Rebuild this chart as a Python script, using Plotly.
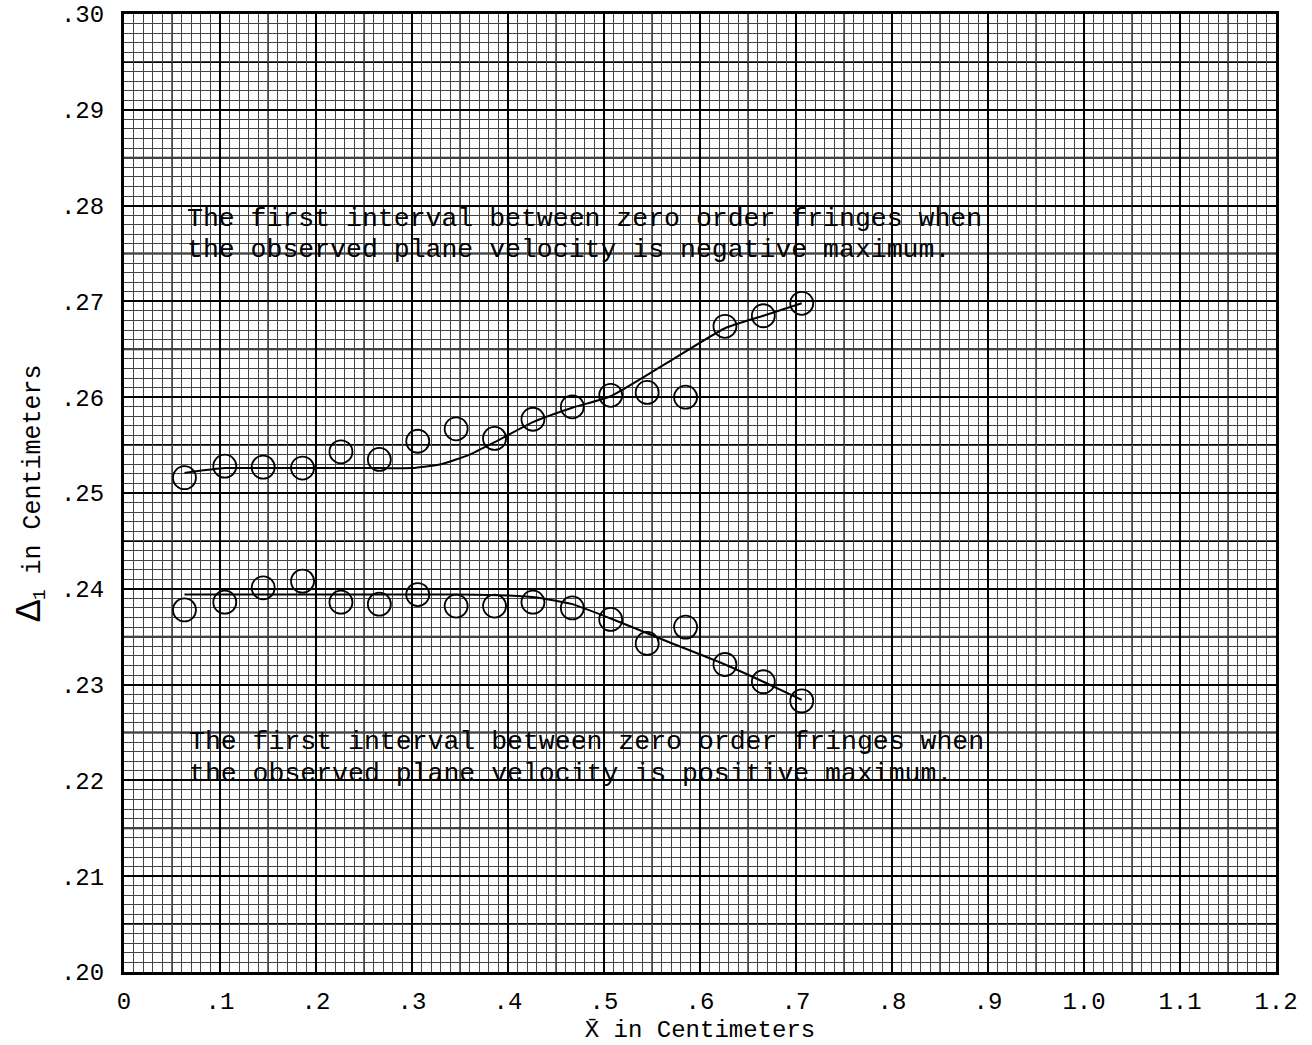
import plotly.graph_objects as go

# ---- data ----
x_points = [0.063, 0.105, 0.145, 0.186, 0.226, 0.266, 0.306, 0.346, 0.386,
            0.426, 0.467, 0.507, 0.545, 0.585, 0.626, 0.666, 0.706]

neg_max_points = [0.2516, 0.2528, 0.2527, 0.2526, 0.2543, 0.2535, 0.2554, 0.2567, 0.2557,
                  0.2577, 0.2590, 0.2602, 0.2605, 0.2600, 0.2674, 0.2685, 0.2698]
pos_max_points = [0.2378, 0.2386, 0.2401, 0.2408, 0.2386, 0.2384, 0.2394, 0.2382, 0.2382,
                  0.2386, 0.2380, 0.2368, 0.2343, 0.2360, 0.2321, 0.2303, 0.2283]

neg_curve_x = [0.063, 0.105, 0.15, 0.19, 0.23, 0.27, 0.30, 0.33, 0.36, 0.386, 0.426, 0.467, 0.507, 0.566, 0.626, 0.666, 0.706]
neg_curve_y = [0.2521, 0.2526, 0.2526, 0.2526, 0.2526, 0.2526, 0.2526, 0.2530, 0.2540, 0.2553, 0.2574, 0.2589, 0.2601, 0.2636, 0.2672, 0.2685, 0.2698]

pos_curve_x = [0.063, 0.10, 0.15, 0.20, 0.25, 0.30, 0.35, 0.40, 0.43, 0.467, 0.507, 0.566, 0.626, 0.666, 0.706]
pos_curve_y = [0.2394, 0.2394, 0.2394, 0.2394, 0.2394, 0.2394, 0.2394, 0.2393, 0.2391, 0.2384, 0.2369, 0.2345, 0.2321, 0.2303, 0.2284]

x_tick_vals = [0.0, 0.1, 0.2, 0.3, 0.4, 0.5, 0.6, 0.7, 0.8, 0.9, 1.0, 1.1, 1.2]
x_tick_text = ["0", ".1", ".2", ".3", ".4", ".5", ".6", ".7", ".8", ".9", "1.0", "1.1", "1.2"]
y_tick_vals = [0.20, 0.21, 0.22, 0.23, 0.24, 0.25, 0.26, 0.27, 0.28, 0.29, 0.30]
y_tick_text = [".20", ".21", ".22", ".23", ".24", ".25", ".26", ".27", ".28", ".29", ".30"]
x_half_lines = [0.05, 0.15, 0.25, 0.35, 0.45, 0.55, 0.65, 0.75, 0.85, 0.95, 1.05, 1.15]
y_half_lines = [0.205, 0.215, 0.225, 0.235, 0.245, 0.255, 0.265, 0.275, 0.285, 0.295]

note_neg = ["The first interval between zero order fringes when",
            "the observed plane velocity is negative maximum."]
note_pos = ["The first interval between zero order fringes when",
            "the observed plane velocity is positive maximum."]

FONT = "Liberation Mono, Courier New, monospace"

fig = go.Figure()

fig.add_trace(go.Scatter(x=neg_curve_x, y=neg_curve_y, mode="lines",
                         line=dict(color="black", width=2, shape="spline", smoothing=0.5),
                         showlegend=False, hoverinfo="skip"))
fig.add_trace(go.Scatter(x=pos_curve_x, y=pos_curve_y, mode="lines",
                         line=dict(color="black", width=2, shape="spline", smoothing=0.5),
                         showlegend=False, hoverinfo="skip"))
fig.add_trace(go.Scatter(x=x_points, y=neg_max_points, mode="markers",
                         marker=dict(symbol="circle-open", size=23, color="black",
                                     line=dict(width=1.8, color="black")),
                         showlegend=False))
fig.add_trace(go.Scatter(x=x_points, y=pos_max_points, mode="markers",
                         marker=dict(symbol="circle-open", size=23, color="black",
                                     line=dict(width=1.8, color="black")),
                         showlegend=False))

for xv in x_half_lines:
    fig.add_shape(type="line", xref="x", yref="paper", x0=xv, x1=xv, y0=0, y1=1,
                  line=dict(color="#222", width=1.3), layer="below")
for yv in y_half_lines:
    fig.add_shape(type="line", xref="paper", yref="y", x0=0, x1=1, y0=yv, y1=yv,
                  line=dict(color="black", width=2), layer="below")

annots = []
for i, t in enumerate(note_neg):
    annots.append(dict(x=0.0635, y=[0.2786, 0.2754][i], text=t, showarrow=False,
                       xanchor="left", yanchor="middle",
                       font=dict(family=FONT, size=26.5, color="black")))
for i, t in enumerate(note_pos):
    annots.append(dict(x=0.0655, y=[0.2240, 0.2207][i], text=t, showarrow=False,
                       xanchor="left", yanchor="middle",
                       font=dict(family=FONT, size=26.5, color="black")))

fig.update_layout(
    width=1312, height=1045,
    margin=dict(l=124, r=36, t=14, b=73),
    paper_bgcolor="white", plot_bgcolor="white",
    annotations=annots,
    font=dict(family=FONT, color="black"),
)

fig.update_xaxes(
    range=[0, 1.2], tickvals=x_tick_vals, ticktext=x_tick_text,
    tickfont=dict(family=FONT, size=24, color="black"),
    showgrid=True, gridcolor="black", gridwidth=2,
    minor=dict(dtick=0.01, tick0=0, showgrid=True, gridcolor="#444", gridwidth=1, ticks=""),
    showline=True, linecolor="black", linewidth=3, mirror=True,
    ticks="", zeroline=False, ticklabelstandoff=5, automargin=False,
    title=dict(text="X\u0304 in Centimeters", font=dict(family=FONT, size=24, color="black"),
               standoff=6),
)
fig.update_yaxes(
    range=[0.20, 0.30], tickvals=y_tick_vals, ticktext=y_tick_text,
    tickfont=dict(family=FONT, size=24, color="black"),
    showgrid=True, gridcolor="black", gridwidth=2,
    minor=dict(dtick=0.001, tick0=0.2, showgrid=True, gridcolor="#444", gridwidth=1, ticks=""),
    showline=True, linecolor="black", linewidth=3, mirror=True,
    ticks="", zeroline=False, ticklabelstandoff=12, automargin=False,
    title=dict(text="<span style='font-size:36px'>\u0394</span><sub>1</sub>"
                    "<span style='font-size:25px'> in Centimeters</span>",
               font=dict(family=FONT, size=25, color="black"), standoff=14),
)

fig.write_html("out.html")
